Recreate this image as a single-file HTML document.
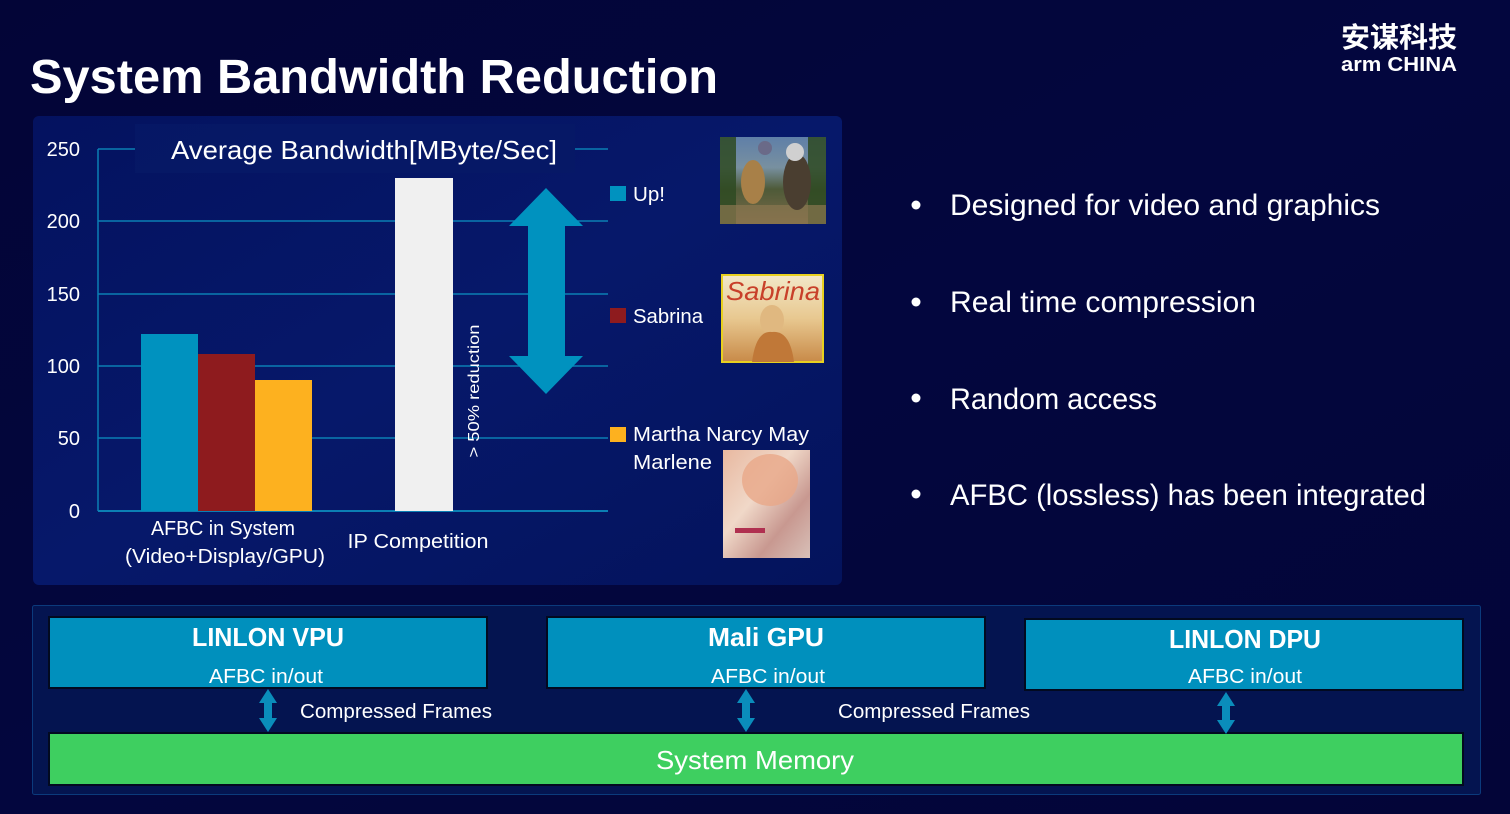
<!DOCTYPE html>
<html><head><meta charset="utf-8"><style>
html,body{margin:0;padding:0;background:#03063a;}
svg{display:block;}
text{font-family:"Liberation Sans","Noto Sans CJK SC",sans-serif;fill:#fff;}
</style></head><body>
<svg width="1510" height="814" viewBox="0 0 1510 814" xmlns="http://www.w3.org/2000/svg">
<defs>
<linearGradient id="bg" x1="0" y1="0" x2="1" y2="1">
<stop offset="0" stop-color="#030537"/><stop offset="0.5" stop-color="#03063e"/><stop offset="1" stop-color="#030538"/>
</linearGradient>
<linearGradient id="panel" x1="0" y1="0" x2="1" y2="1">
<stop offset="0" stop-color="#04125f"/><stop offset="0.5" stop-color="#06186a"/><stop offset="1" stop-color="#04135c"/>
</linearGradient>
<linearGradient id="up" x1="0" y1="0" x2="0" y2="1">
<stop offset="0" stop-color="#5f7fa8"/><stop offset="0.35" stop-color="#7890a0"/><stop offset="0.6" stop-color="#4e5a38"/><stop offset="1" stop-color="#7c6a48"/>
</linearGradient>
<linearGradient id="sab" x1="0" y1="0" x2="0" y2="1">
<stop offset="0" stop-color="#f2e8c8"/><stop offset="0.5" stop-color="#e8c890"/><stop offset="1" stop-color="#c88a48"/>
</linearGradient>
<linearGradient id="mar" x1="0" y1="0" x2="1" y2="1">
<stop offset="0" stop-color="#e8b8a0"/><stop offset="0.4" stop-color="#f0d8c8"/><stop offset="0.7" stop-color="#c89890"/><stop offset="1" stop-color="#d8c0b8"/>
</linearGradient>
</defs>
<rect x="0" y="0" width="1510" height="814" fill="url(#bg)"/>

<!-- Title -->
<text x="30" y="93" font-size="48" font-weight="bold" textLength="688" lengthAdjust="spacingAndGlyphs">System Bandwidth Reduction</text>

<!-- Logo -->
<text x="1341" y="47" font-size="28" font-weight="bold" font-family="Noto Sans CJK SC, sans-serif" textLength="116" lengthAdjust="spacingAndGlyphs">安谋科技</text>
<text x="1341" y="71" font-size="20" font-weight="bold" textLength="116" lengthAdjust="spacingAndGlyphs">arm CHINA</text>

<!-- Chart panel -->
<rect x="33" y="116" width="809" height="469" rx="6" fill="url(#panel)"/>
<rect x="135" y="124" width="440" height="49" fill="#061966" opacity="0.8"/>

<!-- gridlines -->
<g stroke="#0b7fb4" stroke-width="1.5">
<line x1="98" y1="149" x2="135" y2="149"/>
<line x1="575" y1="149" x2="608" y2="149"/>
<line x1="98" y1="221" x2="608" y2="221"/>
<line x1="98" y1="294" x2="608" y2="294"/>
<line x1="98" y1="366" x2="608" y2="366"/>
<line x1="98" y1="438" x2="608" y2="438"/>
<line x1="98" y1="511" x2="608" y2="511" stroke-width="2"/>
<line x1="98" y1="149" x2="98" y2="511"/>
</g>
<g font-size="20" text-anchor="end">
<text x="80" y="156">250</text>
<text x="80" y="228">200</text>
<text x="80" y="301">150</text>
<text x="80" y="373">100</text>
<text x="80" y="445">50</text>
<text x="80" y="518">0</text>
</g>
<text x="171" y="159" font-size="26" textLength="386" lengthAdjust="spacingAndGlyphs">Average Bandwidth[MByte/Sec]</text>

<!-- bars -->
<rect x="141" y="334" width="57" height="177" fill="#0092bf"/>
<rect x="198" y="354" width="57" height="157" fill="#8e1b1e"/>
<rect x="255" y="380" width="57" height="131" fill="#fdb11f"/>
<rect x="395" y="178" width="58" height="333" fill="#f0f0f0"/>

<!-- reduction text -->
<text transform="translate(479,391) rotate(-90)" text-anchor="middle" font-size="16" textLength="133" lengthAdjust="spacingAndGlyphs">&gt; 50% reduction</text>

<!-- big double arrow -->
<polygon points="546,188 583,226 565,226 565,356 583,356 546,394 509,356 528,356 528,226 509,226" fill="#0092bf"/>

<!-- legend -->
<rect x="610" y="186" width="16" height="15" fill="#0092bf"/>
<text x="633" y="201" font-size="20" textLength="32" lengthAdjust="spacingAndGlyphs">Up!</text>
<rect x="610" y="308" width="16" height="15" fill="#8e1b1e"/>
<text x="633" y="323" font-size="20" textLength="70" lengthAdjust="spacingAndGlyphs">Sabrina</text>
<rect x="610" y="427" width="16" height="15" fill="#fdb11f"/>
<text x="633" y="441" font-size="20" textLength="176" lengthAdjust="spacingAndGlyphs">Martha Narcy May</text>
<text x="633" y="469" font-size="20" textLength="79" lengthAdjust="spacingAndGlyphs">Marlene</text>

<!-- thumbnails -->
<rect x="720" y="137" width="106" height="87" fill="url(#up)"/>
<rect x="720" y="137" width="16" height="87" fill="#2e4a22" opacity="0.85"/>
<rect x="808" y="137" width="18" height="87" fill="#2e4a22" opacity="0.85"/>
<rect x="720" y="205" width="106" height="19" fill="#8a7650" opacity="0.7"/>
<circle cx="765" cy="148" r="7" fill="#6a6a88"/>
<ellipse cx="753" cy="182" rx="12" ry="22" fill="#a88048"/>
<ellipse cx="797" cy="182" rx="14" ry="28" fill="#4a3e30"/>
<circle cx="795" cy="152" r="9" fill="#d0d0d0"/>
<rect x="722" y="275" width="101" height="87" fill="url(#sab)" stroke="#e8d020" stroke-width="2"/>
<text x="726" y="300" font-size="26" font-style="italic" font-family="Liberation Serif, serif" style="fill:#c8402a" textLength="94" lengthAdjust="spacingAndGlyphs">Sabrina</text>
<ellipse cx="772" cy="320" rx="12" ry="15" fill="#e0b880"/>
<path d="M752 362 Q756 330 772 332 Q790 330 794 362 Z" fill="#c07838"/>
<rect x="723" y="450" width="87" height="108" fill="url(#mar)"/>
<ellipse cx="770" cy="480" rx="28" ry="26" fill="#e8a888" opacity="0.8"/>
<rect x="735" y="528" width="30" height="5" fill="#b03050"/>

<!-- x labels -->
<text x="223" y="535" font-size="20" text-anchor="middle" textLength="144" lengthAdjust="spacingAndGlyphs">AFBC in System</text>
<text x="225" y="563" font-size="20" text-anchor="middle" textLength="200" lengthAdjust="spacingAndGlyphs">(Video+Display/GPU)</text>
<text x="418" y="548" font-size="20" text-anchor="middle" textLength="141" lengthAdjust="spacingAndGlyphs">IP Competition</text>

<!-- bullets -->
<g>
<circle cx="916" cy="205" r="4.5" fill="#fff"/>
<text x="950" y="215" font-size="30" textLength="430" lengthAdjust="spacingAndGlyphs">Designed for video and graphics</text>
<circle cx="916" cy="302" r="4.5" fill="#fff"/>
<text x="950" y="312" font-size="30" textLength="306" lengthAdjust="spacingAndGlyphs">Real time compression</text>
<circle cx="916" cy="398" r="4.5" fill="#fff"/>
<text x="950" y="409" font-size="30" textLength="207" lengthAdjust="spacingAndGlyphs">Random access</text>
<circle cx="916" cy="494" r="4.5" fill="#fff"/>
<text x="950" y="505" font-size="30" textLength="476" lengthAdjust="spacingAndGlyphs">AFBC (lossless) has been integrated</text>
</g>

<!-- bottom panel -->
<rect x="32.5" y="605.5" width="1448" height="189" rx="2" fill="#041450" stroke="#0b3a7c" stroke-width="1"/>

<rect x="49" y="617" width="438" height="71" fill="#0090bd" stroke="#020a20" stroke-width="2"/>
<text x="268" y="646" font-size="26" font-weight="bold" text-anchor="middle" textLength="152" lengthAdjust="spacingAndGlyphs">LINLON VPU</text>
<text x="266" y="683" font-size="20" text-anchor="middle" textLength="114" lengthAdjust="spacingAndGlyphs">AFBC in/out</text>

<rect x="547" y="617" width="438" height="71" fill="#0090bd" stroke="#020a20" stroke-width="2"/>
<text x="766" y="646" font-size="26" font-weight="bold" text-anchor="middle" textLength="116" lengthAdjust="spacingAndGlyphs">Mali GPU</text>
<text x="768" y="683" font-size="20" text-anchor="middle" textLength="114" lengthAdjust="spacingAndGlyphs">AFBC in/out</text>

<rect x="1025" y="619" width="438" height="71" fill="#0090bd" stroke="#020a20" stroke-width="2"/>
<text x="1245" y="648" font-size="26" font-weight="bold" text-anchor="middle" textLength="152" lengthAdjust="spacingAndGlyphs">LINLON DPU</text>
<text x="1245" y="683" font-size="20" text-anchor="middle" textLength="114" lengthAdjust="spacingAndGlyphs">AFBC in/out</text>

<rect x="49" y="733" width="1414" height="52" fill="#3ecf60" stroke="#020a20" stroke-width="2"/>
<text x="755" y="769" font-size="26" text-anchor="middle" textLength="198" lengthAdjust="spacingAndGlyphs">System Memory</text>

<!-- small double arrows -->
<polygon points="268,689 277,703 272,703 272,718 277,718 268,732 259,718 264,718 264,703 259,703" fill="#0a8dbb"/>
<polygon points="746,689 755,703 750,703 750,718 755,718 746,732 737,718 742,718 742,703 737,703" fill="#0a8dbb"/>
<polygon points="1226,692 1235,706 1230,706 1230,720 1235,720 1226,734 1217,720 1222,720 1222,706 1217,706" fill="#0a8dbb"/>

<text x="300" y="718" font-size="20" textLength="192" lengthAdjust="spacingAndGlyphs">Compressed Frames</text>
<text x="838" y="718" font-size="20" textLength="192" lengthAdjust="spacingAndGlyphs">Compressed Frames</text>
</svg>
</body></html>
